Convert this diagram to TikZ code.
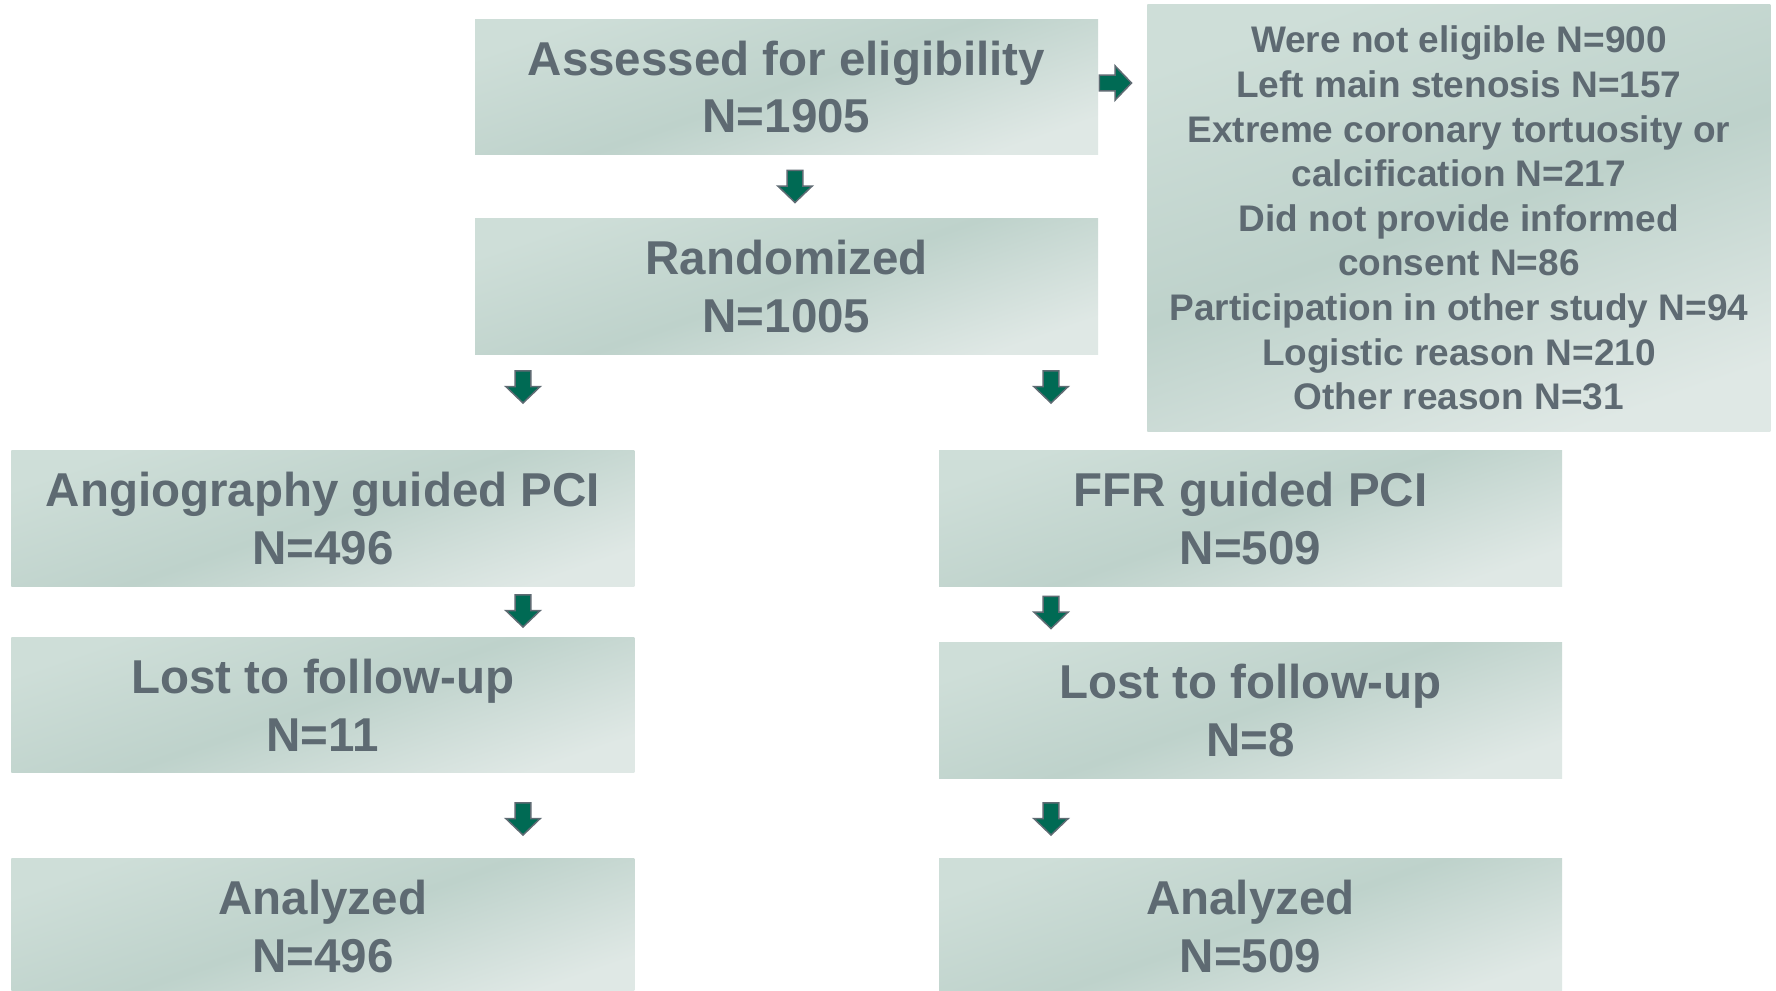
\documentclass[tikz,border=0pt]{standalone}
\usepackage{fontspec}
\setmainfont{Liberation Sans}
\definecolor{txt}{RGB}{94,106,114}
\definecolor{arrfill}{RGB}{0,106,84}
\definecolor{arrline}{RGB}{95,107,115}
\definecolor{gA}{RGB}{206,222,216}
\definecolor{gB}{RGB}{190,210,203}
\definecolor{gC}{RGB}{223,232,229}
\tikzset{
  box/.style={rectangle, inner sep=0pt, top color=gA, bottom color=gC, middle color=gB,
    shading angle=19, text=txt, align=center,
    font=\bfseries\fontsize{47.5}{57.5}\selectfont,
    minimum width=623pt, minimum height=135.5pt},
  smallbox/.style={box, font=\bfseries\fontsize{37}{44.6}\selectfont,
    minimum height=427pt},
  arrowshape/.style={draw=arrline, fill=arrfill, line width=1.5pt, line join=miter},
  darr/.pic={\path[arrowshape] (-7.8,-0.75) -- (7.8,-0.75) -- (7.8,-16.5) -- (17.2,-16.5)
      -- (0,-33) -- (-17.2,-16.5) -- (-7.8,-16.5) -- cycle;},
  rarr/.pic={\path[arrowshape] (0.75,7.8) -- (16.5,7.8) -- (16.5,17.2) -- (33,0)
      -- (16.5,-17.2) -- (16.5,-7.8) -- (0.75,-7.8) -- cycle;}
}
\begin{document}
\begin{tikzpicture}[x=1pt,y=1pt]
\useasboundingbox (0,0) rectangle (1776,-990);
\fill[white] (0,0) rectangle (1776,-990);

\node[box] (assess) at (786.5,-86.8) {Assessed for eligibility\\N=1905};
\node[box] (rand)   at (786.5,-286.7) {Randomized\\N=1005};
\node[smallbox] (excl) at (1458.9,-218) {Were not eligible N=900\\Left main stenosis N=157\\Extreme coronary tortuosity or\\calcification N=217\\Did not provide informed\\consent N=86\\Participation in other study N=94\\Logistic reason N=210\\Other reason N=31};

\node[box] (angio) at (322.8,-518.7) {Angiography guided PCI\\N=496};
\node[box] (ffr)   at (1250.5,-518.7) {FFR guided PCI\\N=509};
\node[box] (lostl) at (322.8,-705.2) {Lost to follow-up\\N=11};
\node[box] (lostr) at (1250.5,-710.5) {Lost to follow-up\\N=8};
\node[box] (anal)  at (322.8,-926.5) {Analyzed\\N=496};
\node[box] (anar)  at (1250.5,-926.5) {Analyzed\\N=509};

\pic (a1) at (1098.5,-83) {rarr};
\pic (a2) at (795,-169.5) {darr};
\pic (a3) at (523,-370) {darr};
\pic (a4) at (1051,-370) {darr};
\pic (a5) at (523,-594) {darr};
\pic (a6) at (1051,-595.5) {darr};
\pic (a7) at (523,-802) {darr};
\pic (a8) at (1051,-802) {darr};
\end{tikzpicture}
\end{document}
